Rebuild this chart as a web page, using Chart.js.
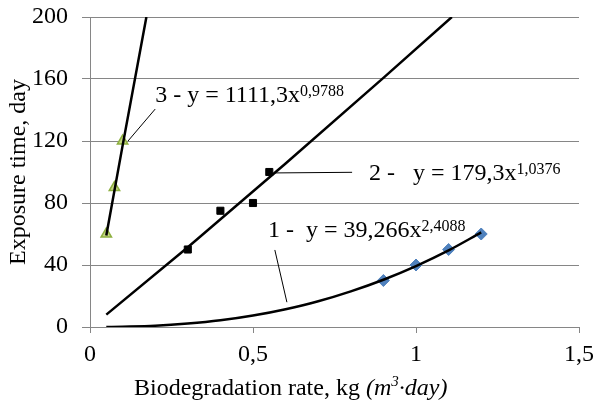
<!DOCTYPE html>
<html>
<head>
<meta charset="utf-8">
<script src="https://cdn.jsdelivr.net/npm/chart.js@4.4.1/dist/chart.umd.min.js"></script>
<style>
  html, body { margin: 0; padding: 0; background: #fff; }
  #wrap { width: 595px; height: 404px; }
</style>
</head>
<body>
<div id="wrap"><canvas id="c"></canvas></div>
<script>
// measured points
const rate1 = [0.9, 1.0, 1.1, 1.2];
const time1 = [30, 40, 50, 60];
const rate2 = [0.3, 0.4, 0.5, 0.55];
const time2 = [50, 75, 80, 100];
const rate3 = [0.05, 0.075, 0.1];
const time3 = [60, 90, 120];

// trend lines: values worked out by hand from the fit equations printed on
// the chart, rounded, and checked against the curves drawn in the picture
const trendX1 = [0.05, 0.1, 0.2, 0.3, 0.4, 0.5, 0.6, 0.7, 0.8, 0.9, 1.0, 1.1, 1.2];
const trendY1 = [0, 0.2, 0.8, 2.2, 4.3, 7.4, 11.5, 16.6, 23, 30.5, 39.3, 49.4, 61];
const trendX2 = [0.05, 0.3, 0.6, 0.9, 1.11];
const trendY2 = [8, 51.4, 105.5, 160.7, 200];
const trendX3 = [0.05, 0.1, 0.173];
const trendY3 = [59, 117, 200];

const xTicks = [0, 0.5, 1, 1.5];
const yTicks = [0, 40, 80, 120, 160, 200];

const equations = [
  { base: '3 - y = 1111,3x', exp: '0,9788' },
  { base: '2 -   y = 179,3x', exp: '1,0376' },
  { base: '1 -  y = 39,266x', exp: '2,4088' }
];

const pts = (xs, ys) => xs.map((x, i) => ({ x: x, y: ys[i] }));
const fmt = v => String(v).replace('.', ',');

const FONT = 'Liberation Serif';
Chart.defaults.font.family = FONT;

// label placement (data coords)
const labelPos = [
  { x: 0.2, y: 149.4, from: [0.2, 140.6], to: [0.1166, 120] },
  { x: 0.856, y: 99.1, from: [0.567, 99.4], to: [0.804, 99.8] },
  { x: 0.546, y: 62.3, from: [0.567, 49.7], to: [0.604, 16] }
];

const labels = {
  id: 'labels',
  afterDatasetsDraw(chart) {
    const ctx = chart.ctx;
    const xs = chart.scales.x, ys = chart.scales.y;
    ctx.save();
    ctx.fillStyle = '#000';
    ctx.strokeStyle = '#000';
    ctx.lineWidth = 1;
    equations.forEach((eq, i) => {
      const p = labelPos[i];
      ctx.beginPath();
      ctx.moveTo(xs.getPixelForValue(p.from[0]), ys.getPixelForValue(p.from[1]));
      ctx.lineTo(xs.getPixelForValue(p.to[0]), ys.getPixelForValue(p.to[1]));
      ctx.stroke();
      const px = xs.getPixelForValue(p.x), py = ys.getPixelForValue(p.y);
      ctx.textBaseline = 'middle';
      ctx.textAlign = 'left';
      ctx.font = '24px "' + FONT + '"';
      ctx.fillText(eq.base, px, py);
      const w = ctx.measureText(eq.base).width;
      ctx.font = '16px "' + FONT + '"';
      ctx.fillText(eq.exp, px + w, py - 4);
    });
    // x axis title, mixed styles
    const a = 'Biodegradation rate, kg ';
    const b = '(m';
    const c = '·day)';
    ctx.textBaseline = 'alphabetic';
    let tx = 134, ty = 395;
    ctx.font = '24px "' + FONT + '"';
    ctx.fillText(a, tx, ty);
    tx += ctx.measureText(a).width;
    ctx.font = 'italic 24px "' + FONT + '"';
    ctx.fillText(b, tx, ty);
    tx += ctx.measureText(b).width;
    ctx.font = 'italic 15px "' + FONT + '"';
    ctx.fillText('3', tx, ty - 9);
    tx += ctx.measureText('3').width;
    ctx.font = 'italic 24px "' + FONT + '"';
    ctx.fillText(c, tx, ty);
    ctx.restore();
  }
};

new Chart(document.getElementById('c'), {
  type: 'scatter',
  data: {
    datasets: [
      { data: pts(trendX1, trendY1), showLine: true, borderColor: '#000', borderWidth: 2.5,
        pointRadius: 0, cubicInterpolationMode: 'monotone', order: 1 },
      { data: pts(trendX2, trendY2), showLine: true, borderColor: '#000', borderWidth: 2.5,
        pointRadius: 0, order: 1 },
      { data: pts(trendX3, trendY3), showLine: true, borderColor: '#000', borderWidth: 2.5,
        pointRadius: 0, order: 1 },
      { data: pts(rate1, time1), pointStyle: 'rectRot', pointRadius: 6,
        backgroundColor: '#4f81bd', borderColor: '#4f81bd', borderWidth: 1, order: 2 },
      { data: pts(rate2, time2), pointStyle: 'rect', pointRadius: 5,
        backgroundColor: '#000', borderColor: '#000', borderWidth: 1, order: 2 },
      { data: pts(rate3, time3), pointStyle: 'triangle', pointRadius: 6,
        backgroundColor: '#c6d883', borderColor: '#8eb040', borderWidth: 1.5, order: 2 }
    ]
  },
  options: {
    responsive: true,
    maintainAspectRatio: false,
    animation: false,
    layout: { padding: { top: 17, right: 16, left: 0, bottom: 0 } },
    plugins: { legend: { display: false }, tooltip: { enabled: false } },
    scales: {
      x: {
        type: 'linear', min: 0, max: 1.5,
        afterBuildTicks: s => { s.ticks = xTicks.map(v => ({ value: v })); },
        afterFit: s => { s.height = 77; s.paddingLeft = 0; s.paddingRight = 0; },
        grid: { drawOnChartArea: false, color: '#868686', tickLength: 6 },
        border: { color: '#868686', width: 1 },
        ticks: { color: '#000', font: { family: FONT, size: 24 }, padding: 7,
          callback: v => fmt(v), maxRotation: 0 }
      },
      y: {
        min: 0, max: 200,
        afterBuildTicks: s => { s.ticks = yTicks.map(v => ({ value: v })); },
        afterFit: s => { s.width = 90; s.paddingTop = 0; s.paddingBottom = 0; },
        grid: { color: '#868686', tickLength: 8 },
        border: { color: '#868686', width: 1 },
        ticks: { color: '#000', font: { family: FONT, size: 24 }, padding: 14 },
        title: { display: true, text: 'Exposure time, day', color: '#000',
          font: { family: FONT, size: 24 }, padding: { top: 4, bottom: 0 } }
      }
    }
  },
  plugins: [labels]
});
</script>
</body>
</html>
